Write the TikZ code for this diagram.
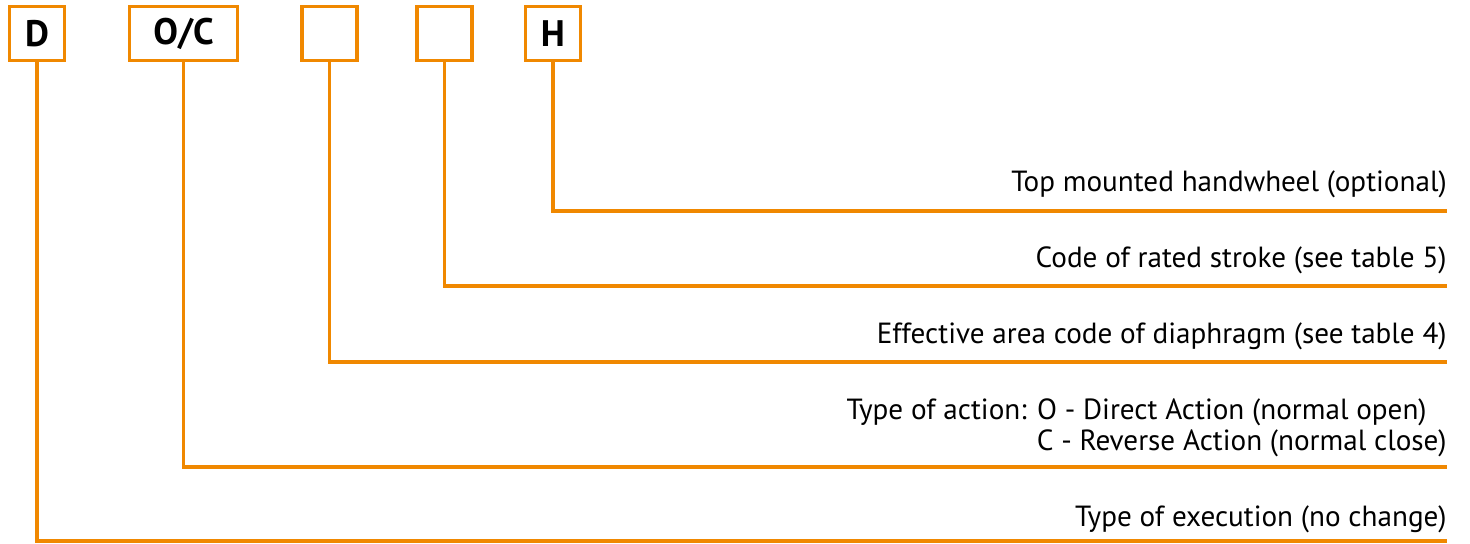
\documentclass[tikz,border=0pt]{standalone}
\usepackage{fontspec}
\setmainfont{PT Sans}
\definecolor{codeorange}{RGB}{240,136,0}
\begin{document}
\begin{tikzpicture}[x=0.02cm,y=-0.02cm]
    \tikzstyle{codebox}=[draw=codeorange,line width=1.9pt,inner sep=0pt,minimum width=1.1cm,minimum height=1.08cm,font=\fontsize{21}{23}\selectfont\bfseries]
    \tikzstyle{edge}=[draw=codeorange,line width=1.9pt]
    \tikzstyle{label}=[anchor=base east,inner sep=0pt,font=\fontsize{16.6}{18}\selectfont]
    \useasboundingbox (0,0) rectangle (1470,544);
    \begin{scope}
        \node [codebox] (bD) at (37,33.5) {D};
        \node [codebox,minimum width=2.16cm] (bOC) at (183.5,33.5) {O/C};
        \node [codebox] (bA) at (329.5,33.5) {};
        \node [codebox] (bS) at (444.5,33.5) {};
        \node [codebox] (bH) at (553,33.5) {H};
        \coordinate (eH) at (1447,211);
        \coordinate (eS) at (1447,286);
        \coordinate (eA) at (1447,362);
        \coordinate (eOC) at (1447,467);
        \coordinate (eD) at (1447,541);
        \node [label] (tH) at (1447,191) {Top mounted handwheel (optional)};
        \node [label] (tS) at (1447,267) {Code of rated stroke (see table 5)};
        \node [label] (tA) at (1447,343) {Effective area code of diaphragm (see table 4)};
        \node [label] (tOC1) at (1427,419) {Type of action: O - Direct Action (normal open)};
        \node [label] (tOC2) at (1447,450) {C - Reverse Action (normal close)};
        \node [label] (tD) at (1447,526) {Type of execution (no change)};
        \path[edge] (bH.south) |- (eH);
        \path[edge] (bS.south) |- (eS);
        \path[edge] (bA.south) |- (eA);
        \path[edge] (bOC.south) |- (eOC);
        \path[edge] (bD.south) |- (eD);
    \end{scope}
\end{tikzpicture}
\end{document}
